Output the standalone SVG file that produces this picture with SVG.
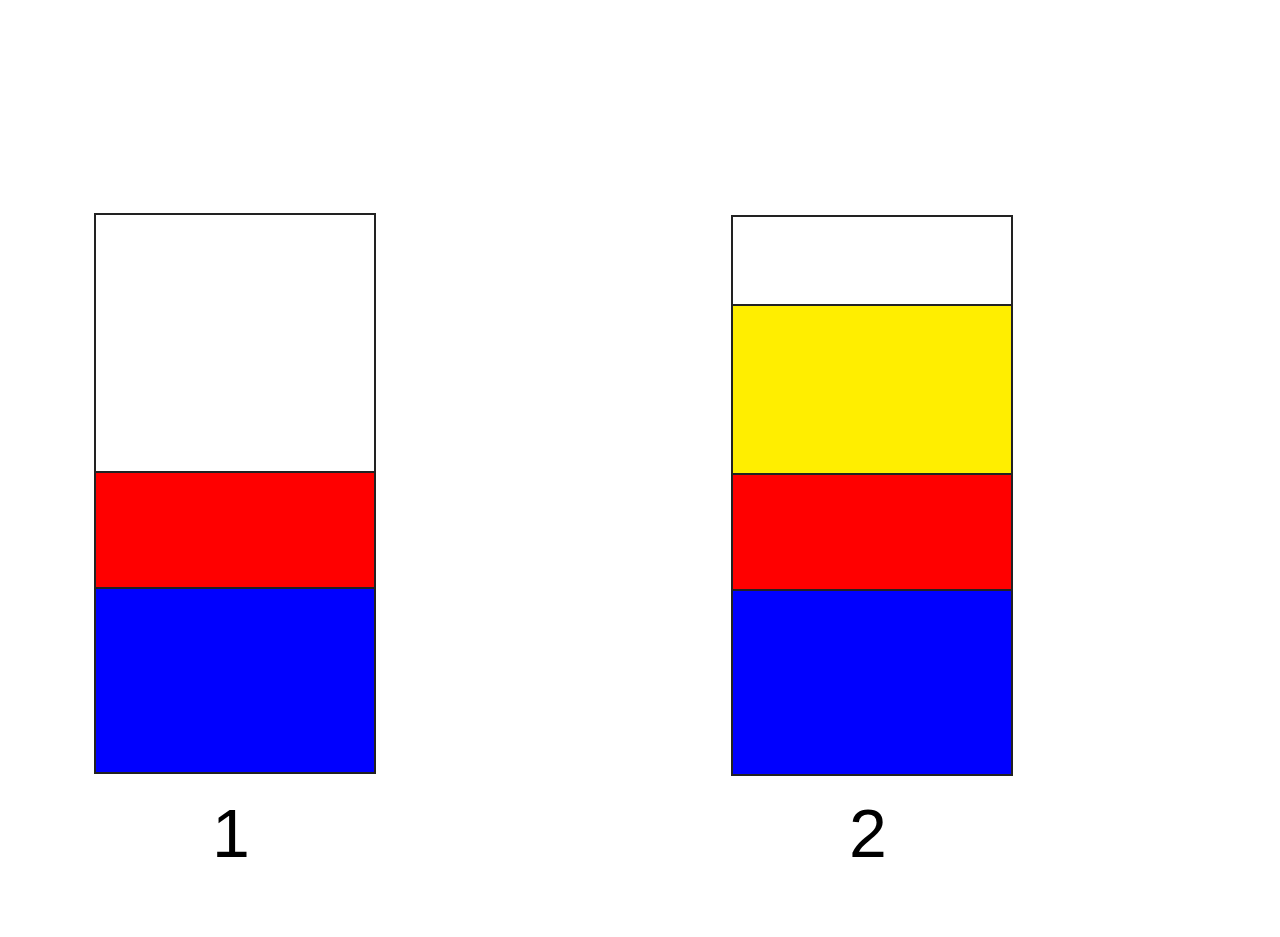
<svg xmlns="http://www.w3.org/2000/svg" width="1280" height="937" viewBox="0 0 1280 937">
<style>
.b{stroke:#222;stroke-width:2}
.w{fill:#fff}.r{fill:#ff0000}.bl{fill:#0000ff}.y{fill:#ffee00}
.lbl{font-family:"Liberation Sans",Arial,sans-serif;font-size:68px;fill:#000;text-anchor:middle}
</style>
<rect width="1280" height="937" fill="#fff"/>
<g id="column1">
<rect class="b w" x="95" y="214" width="280" height="258"/>
<rect class="b r" x="95" y="472" width="280" height="116"/>
<rect class="b bl" x="95" y="588" width="280" height="185"/>
<text class="lbl" x="231" y="857">1</text>
</g>
<g id="column2">
<rect class="b w" x="732" y="216" width="280" height="89"/>
<rect class="b y" x="732" y="305" width="280" height="169"/>
<rect class="b r" x="732" y="474" width="280" height="116"/>
<rect class="b bl" x="732" y="590" width="280" height="185"/>
<text class="lbl" x="868" y="857">2</text>
</g>
<g id="connectors"/>
</svg>
